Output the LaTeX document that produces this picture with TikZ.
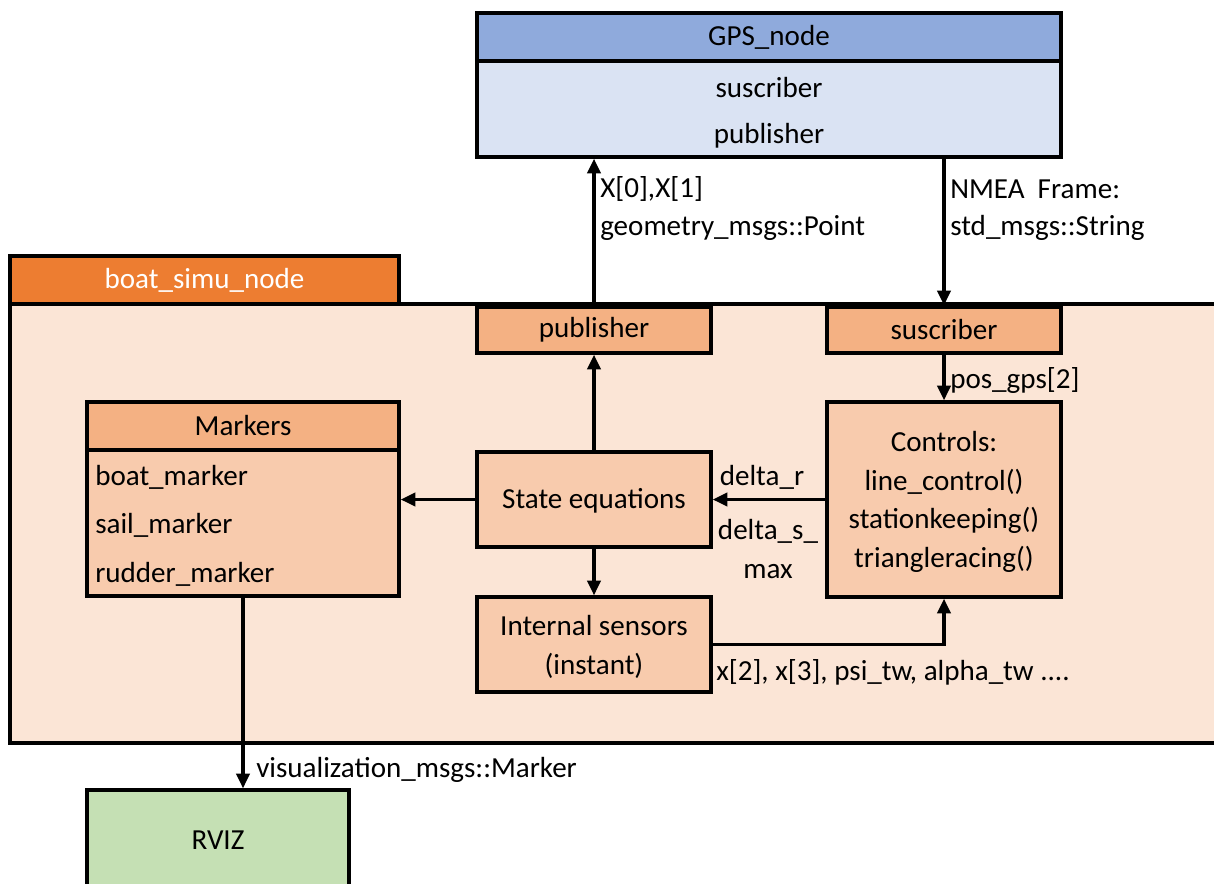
\documentclass[tikz,border=0pt]{standalone}
\usepackage{fontspec}
\setmainfont{Carlito}
\usetikzlibrary{arrows.meta,fit}

\definecolor{gpshead}{HTML}{8FAADC}
\definecolor{gpsbody}{HTML}{DAE3F3}
\definecolor{simutab}{HTML}{ED7D31}
\definecolor{simubody}{HTML}{FBE5D6}
\definecolor{portfill}{HTML}{F4B183}
\definecolor{blockfill}{HTML}{F8CBAD}
\definecolor{rvizfill}{HTML}{C5E0B4}

\begin{document}
\begin{tikzpicture}[x=0.75pt,y=0.75pt,yscale=-1,
  box/.style={draw, line width=2.6pt, inner sep=0pt},
  lbl/.style={inner sep=0pt, align=center, font=\fontsize{21.8}{29}\selectfont},
  flow/.style={line width=2.3pt, -{Triangle[length=11pt,width=10pt]}}]
\useasboundingbox (0,0) rectangle (1214,883);
\clip (0,0) rectangle (1214,883);

%GPS node
\node[box, fill=gpsbody, fit={(477,61) (1061,157)}] (gpsbody) {};
\node[box, fill=gpshead, fit={(477,13) (1061,61)}] (gpshead) {};
\node[lbl] (gpstitle) at (gpshead) {GPS\_node};
\node[lbl] (gpssub) at (769,88) {suscriber};
\node[lbl] (gpspub) at (769,136) {publisher};

%boat simulation node
\node[box, fill=simubody, fit={(10,304) (1230,743)}] (simu) {};
\node[box, fill=simutab, fit={(10,256) (399,304)}] (simutab) {};
\node[lbl, text=white] (simutitle) at (simutab) {boat\_simu\_node};

%ports
\node[box, fill=portfill, fit={(477,307) (711,353)}] (pub) {};
\node[lbl] at (pub) {publisher};
\node[box, fill=portfill, fit={(827,307) (1061,353)}] (sub) {};
\node[lbl] at (sub) {suscriber};

%Markers
\node[box, fill=blockfill, fit={(87,450) (399,596)}] (markbody) {};
\node[box, fill=portfill, fit={(87,402) (399,450)}] (markhead) {};
\node[lbl] (marktitle) at (markhead) {Markers};
\node[lbl, anchor=west] (boatmk) at (95,477) {boat\_marker};
\node[lbl, anchor=west] (sailmk) at (95,525) {sail\_marker};
\node[lbl, anchor=west] (ruddermk) at (95,574) {rudder\_marker};

%inner blocks
\node[box, fill=blockfill, fit={(477,452) (711,547)}] (state) {};
\node[lbl] (statetxt) at (594,501) {State equations};
\node[box, fill=blockfill, fit={(477,597) (711,692)}] (sensors) {};
\node[lbl] (sensorstxt) at (594,647) {Internal sensors\\(instant)};
\node[box, fill=blockfill, fit={(827,402) (1061,597)}] (ctrl) {};
\node[lbl] (ctrltxt) at (944,502) {Controls:\\line\_control()\\stationkeeping()\\triangleracing()};

%RVIZ
\node[box, fill=rvizfill, fit={(87,790) (349,890)}] (rviz) {};
\node[lbl] (rviztxt) at (rviz) {RVIZ};

%connectors
\draw[flow] (pub.north) -- (pub.north |- gpsbody.south);
\draw[flow] (gpsbody.south -| sub.north) -- (sub.north);
\draw[flow] (sub.south) -- (ctrl.north);
\draw[flow] (ctrl.west |- state.east) -- (state.east);
\draw[flow] (state.north) -- (pub.south);
\draw[flow] (state.west) -- (state.west -| markbody.east);
\draw[flow] (state.south) -- (sensors.north);
\draw[flow] (sensors.east) -| (ctrl.south);
\draw[flow] (markbody.south) -- (markbody.south |- rviz.north);

%labels
\node[lbl, anchor=west] (xlbl) at (600,189) {X[0],X[1]};
\node[lbl, anchor=west] (pointlbl) at (600,228) {geometry\_msgs::Point};
\node[lbl, anchor=west] (nmealbl) at (950,189) {NMEA\ \ Frame:};
\node[lbl, anchor=west] (strlbl) at (950,228) {std\_msgs::String};
\node[lbl, anchor=west] (poslbl) at (950,380) {pos\_gps[2]};
\node[lbl] (drlbl) at (762,477) {delta\_r};
\node[lbl] (dslbl) at (768,549) {delta\_s\_\\max};
\node[lbl, anchor=west] (senslbl) at (716,672) {x[2], x[3], psi\_tw, alpha\_tw ....};
\node[lbl, anchor=west] (vislbl) at (256,770) {visualization\_msgs::Marker};

\end{tikzpicture}
\end{document}
